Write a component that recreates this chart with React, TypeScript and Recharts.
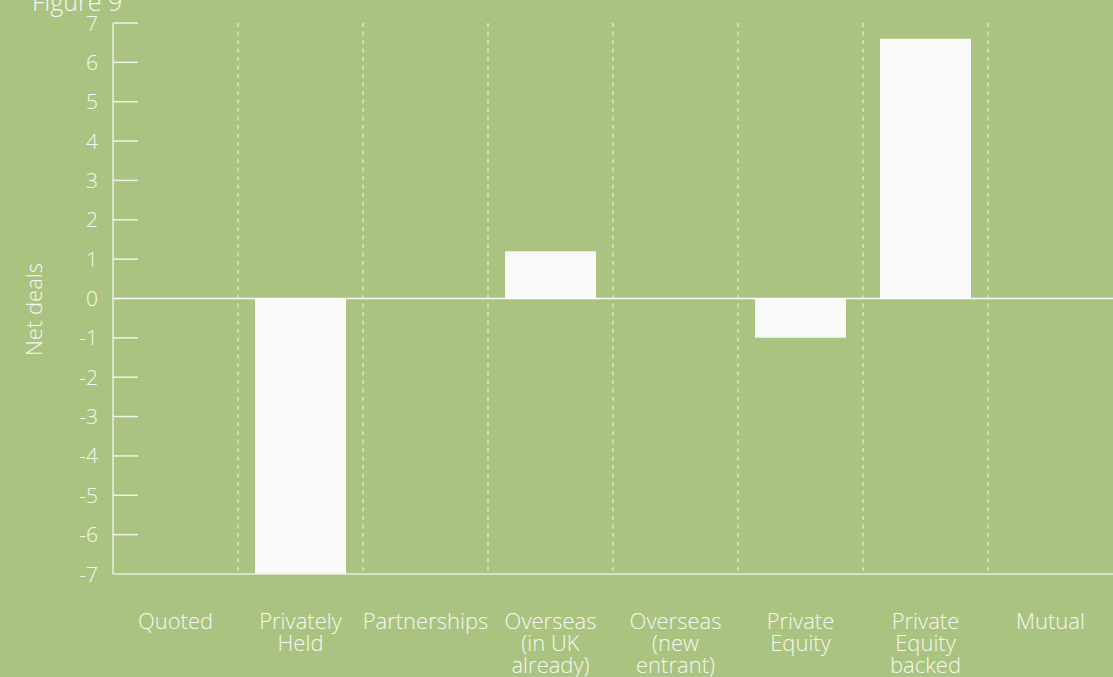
import React from 'react'
import {
  BarChart,
  Bar,
  XAxis,
  YAxis,
  CartesianGrid,
  ReferenceLine,
} from 'recharts'

// categories (line breaks as in the printed labels)
const categories = [
  'Quoted',
  'Privately\nHeld',
  'Partnerships',
  'Overseas\n(in UK\nalready)',
  'Overseas\n(new\nentrant)',
  'Private\nEquity',
  'Private\nEquity\nbacked',
  'Mutual',
]
const netDeals = [0, -7, 0, 1.2, 0, -1, 6.6, 0]
const yTicks = [-7, -6, -5, -4, -3, -2, -1, 0, 1, 2, 3, 4, 5, 6, 7]

const data = categories.map((name, i) => ({ name, value: netDeals[i] }))

const BG = '#abc380'
const TEXT = '#f6f7f2'
const FONT = '"Open Sans", "Noto Sans", sans-serif'

const YTick = (props: any) => {
  const { x, y, payload } = props
  const v = payload.value
  return (
    <g>
      {v !== 0 && v !== -7 && (
        <line x1={x} x2={x + 25} y1={y} y2={y} stroke='#eef3e6' strokeWidth={1.5} />
      )}
      <text
        x={x - 15}
        y={y}
        dy='0.36em'
        textAnchor='end'
        fill={TEXT}
        fontSize={21}
        fontWeight={300}
        fontFamily={FONT}
      >
        {v}
      </text>
    </g>
  )
}

const XTick = (props: any) => {
  const { x, y, payload } = props
  const lines = String(payload.value).split('\n')
  return (
    <text
      x={x}
      y={y + 55}
      textAnchor='middle'
      fill={TEXT}
      fontSize={22}
      fontWeight={300}
      fontFamily={FONT}
    >
      {lines.map((l, i) => (
        <tspan key={i} x={x} dy={i === 0 ? 0 : 22}>
          {l}
        </tspan>
      ))}
    </text>
  )
}

const AxisTitle = (props: any) => {
  const { viewBox } = props
  const cx = 33
  const cy = viewBox.y + viewBox.height / 2 + 11
  return (
    <text
      x={cx}
      y={cy}
      transform={`rotate(-90 ${cx} ${cy})`}
      textAnchor='middle'
      dominantBaseline='central'
      fill={TEXT}
      fontSize={22}
      fontWeight={300}
      fontFamily={FONT}
    >
      Net deals
    </text>
  )
}

// dashed dividers sit on the band edges between categories
const dividers = ({ xAxis, offset }: any) => {
  const scale = xAxis && xAxis.scale
  return categories.slice(1).map((c, i) => {
    if (scale && typeof scale === 'function') {
      const v = scale(c)
      if (typeof v === 'number' && !isNaN(v)) return v
    }
    return offset.left + ((i + 1) * offset.width) / categories.length
  })
}

export default function App() {
  return (
    <div
      style={{
        position: 'fixed',
        left: 0,
        top: 0,
        width: 1113,
        height: 677,
        background: BG,
        overflow: 'hidden',
      }}
    >
      <div
        style={{
          position: 'absolute',
          left: 32,
          top: -12,
          fontSize: 25,
          lineHeight: '26px',
          fontWeight: 300,
          fontFamily: FONT,
          color: TEXT,
        }}
      >
        Figure 9
      </div>
      <BarChart
        width={1113}
        height={677}
        data={data}
        margin={{ top: 23, right: 0, left: 13, bottom: 0 }}
        barCategoryGap={17}
      >
        <CartesianGrid
          xAxisId='cat'
          horizontal={false}
          stroke='rgba(255,255,255,0.7)'
          strokeWidth={1.2}
          strokeDasharray='4 4.5'
          verticalCoordinatesGenerator={dividers}
        />
        <XAxis
          xAxisId='cat'
          dataKey='name'
          height={103}
          interval={0}
          tickLine={false}
          tickSize={0}
          tickMargin={0}
          axisLine={{ stroke: '#e8eedd', strokeWidth: 1.5 }}
          tick={<XTick />}
        />
        <YAxis
          width={100}
          domain={[-7, 7]}
          ticks={yTicks}
          interval={0}
          tickLine={false}
          tickSize={0}
          tickMargin={0}
          axisLine={{ stroke: '#e8eedd', strokeWidth: 1.5 }}
          tick={<YTick />}
          label={<AxisTitle />}
        />
        <ReferenceLine xAxisId='cat' y={0} stroke='#ffffff' strokeWidth={1.5} />
        <Bar xAxisId='cat' dataKey='value' fill='#f9f9f9' isAnimationActive={false} />
      </BarChart>
    </div>
  )
}
